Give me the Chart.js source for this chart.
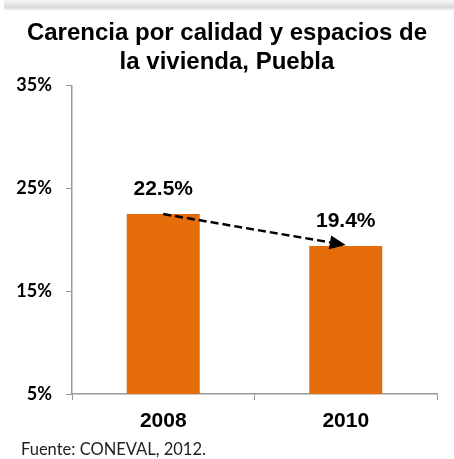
<!DOCTYPE html>
<html>
<head>
<meta charset="utf-8">
<script src="https://cdn.jsdelivr.net/npm/chart.js@4"></script>
<style>
  html, body { margin: 0; padding: 0; background: #fff; }
  #wrap { position: relative; width: 454px; height: 459px; overflow: hidden; }
  #shade { position: absolute; left: 4px; top: 0; width: 450px; height: 11px;
           background: linear-gradient(to bottom, #f6f6f6 0%, #e2e2e2 45%, #d9d9d9 70%, #ffffff 100%); }
  #chart { position: absolute; left: 0; top: 0; }
  #fuente { position: absolute; left: 21px; top: 439px; font: 16.5px Lato, sans-serif; color: #222; }
</style>
</head>
<body>
<div id="wrap">
  <div id="shade"></div>
  <canvas id="chart" width="454" height="459"></canvas>
  <div id="fuente">Fuente: CONEVAL, 2012.</div>
</div>
<script>
// Years and values (percent)
var years = ["2008", "2010"];
var carencia = [22.5, 19.4];
var yTicks = [5, 15, 25, 35];

var axisGray = "#999999";

// value labels above each bar + dashed arrow between bar tops
var barExtras = {
  id: "barExtras",
  afterDatasetsDraw: function (chart) {
    var ctx = chart.ctx;
    var bars = chart.getDatasetMeta(0).data;
    ctx.save();
    ctx.fillStyle = "#000";
    ctx.font = "bold 21px 'Liberation Sans', Arial, sans-serif";
    ctx.textAlign = "center";
    ctx.textBaseline = "middle";
    bars.forEach(function (b, i) {
      ctx.fillText(carencia[i].toFixed(1) + "%", b.x, b.y - 25);
    });

    // arrow
    var x0 = bars[0].x, y0 = bars[0].y;
    var x1 = bars[1].x, y1 = bars[1].y - 1;
    var ang = Math.atan2(y1 - y0, x1 - x0);
    var head = 16;
    ctx.strokeStyle = "#000";
    ctx.lineWidth = 2.5;
    ctx.setLineDash([8, 4]);
    ctx.beginPath();
    ctx.moveTo(x0, y0);
    ctx.lineTo(x1 - head * Math.cos(ang), y1 - head * Math.sin(ang));
    ctx.stroke();
    ctx.setLineDash([]);
    ctx.beginPath();
    ctx.moveTo(x1, y1);
    ctx.lineTo(x1 - head * Math.cos(ang) + 7 * Math.sin(ang), y1 - head * Math.sin(ang) - 7 * Math.cos(ang));
    ctx.lineTo(x1 - head * Math.cos(ang) - 7 * Math.sin(ang), y1 - head * Math.sin(ang) + 7 * Math.cos(ang));
    ctx.closePath();
    ctx.fill();
    ctx.restore();
  }
};

var ctx = document.getElementById("chart");

var chart = new Chart(ctx, {
  type: "bar",
  data: {
    labels: years,
    datasets: [
      {
        data: carencia,
        backgroundColor: "#E46C0A",
        barPercentage: 0.4,
        categoryPercentage: 1
      }
    ]
  },
  options: {
    responsive: false,
    animation: false,
    layout: { padding: { left: 0, right: 0, top: 0, bottom: 25 } },
    plugins: {
      legend: { display: false },
      tooltip: { enabled: false },
      title: {
        display: true,
        text: ["Carencia por calidad y espacios de", "la vivienda, Puebla"],
        color: "#000",
        font: { family: "'Liberation Sans', Arial, sans-serif", size: 24, weight: "bold", lineHeight: 1.2 },
        padding: { top: 19, bottom: 9 }
      }
    },
    scales: {
      x: {
        grid: { display: true, drawOnChartArea: false, color: axisGray, tickLength: 6, offset: true },
        border: { color: axisGray, width: 1.5 },
        ticks: {
          color: "#000",
          padding: 9,
          font: { family: "'Liberation Sans', Arial, sans-serif", size: 21, weight: "bold" }
        },
        afterFit: function (s) { s.height = 40; }
      },
      y: {
        min: 5,
        max: 35,
        afterBuildTicks: function (s) { s.ticks = yTicks.map(function (v) { return { value: v }; }); },
        grid: { display: true, drawOnChartArea: false, color: axisGray, tickLength: 6 },
        border: { color: axisGray, width: 1.5 },
        ticks: {
          color: "#000",
          padding: 14,
          font: { family: "Lato, sans-serif", size: 18, weight: "bold" },
          callback: function (v) { return v + "%"; }
        },
        afterFit: function (s) { s.width = 72; }
      },
      // empty right-hand strip so the title stays centred on the whole canvas
      yRight: {
        position: "right",
        display: true,
        grid: { display: false },
        border: { display: false },
        ticks: { display: false },
        afterFit: function (s) { s.width = 17; }
      }
    }
  },
  plugins: [barExtras]
});
</script>
</body>
</html>
